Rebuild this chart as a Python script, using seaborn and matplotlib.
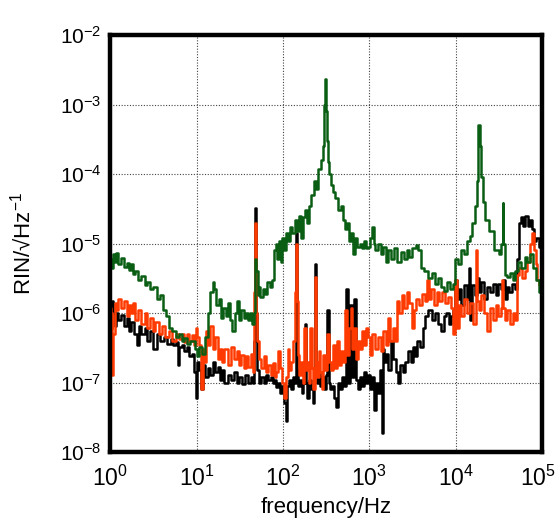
import numpy as np
import pandas as pd
import seaborn as sns
import matplotlib
matplotlib.use("Agg")
import matplotlib.pyplot as plt
import matplotlib.transforms as mtrans

# green trace
green_f = [1.0, 1.05, 1.1, 1.15, 1.2, 1.3, 1.4, 1.5, 1.6, 1.7, 1.8, 1.9, 2.0, 2.2, 2.4, 2.6, 2.8, 3.0, 3.3,
           3.6, 3.9, 4.2, 4.6, 5.0, 5.5, 6.0, 6.5, 7.0, 7.5, 8.0, 9.0, 10.0, 10.5, 11.0, 12.0, 13.0, 14.0,
           15.0, 15.7, 16.5, 17.5, 18.5, 20.0, 21.0, 22.5, 24.0, 25.0, 27.0, 28.0, 30.0, 32.0, 34.0, 36.0,
           38.0, 40.0, 42.0, 45.0, 47.0, 48.5, 50.0, 51.5, 53.0, 56.0, 60.0, 64.0, 68.0, 72.0, 76.0, 80.0,
           84.0, 88.0, 92.0, 96.0, 100.0, 106.0, 112.0, 118.0, 125.0, 132.0, 140.0, 148.0, 156.0, 165.0,
           175.0, 185.0, 195.0, 205.0, 220.0, 235.0, 250.0, 265.0, 280.0, 295.0, 305.0, 312.0, 318.0, 325.0,
           335.0, 350.0, 370.0, 390.0, 420.0, 450.0, 480.0, 510.0, 540.0, 570.0, 600.0, 630.0, 660.0, 700.0,
           750.0, 800.0, 850.0, 900.0, 950.0, 1000.0, 1050.0, 1100.0, 1150.0, 1200.0, 1300.0, 1400.0, 1500.0,
           1600.0, 1700.0, 1850.0, 2000.0, 2200.0, 2400.0, 2600.0, 2800.0, 3000.0, 3300.0, 3600.0, 3800.0,
           4100.0, 4500.0, 5000.0, 5500.0, 6000.0, 6500.0, 7000.0, 7600.0, 8200.0, 9000.0, 9600.0, 10200.0,
           11000.0, 12000.0, 13000.0, 14000.0, 15000.0, 16000.0, 17000.0, 17800.0, 18500.0, 19200.0, 20000.0,
           21000.0, 23000.0, 26000.0, 30000.0, 33000.0, 34500.0, 35000.0, 36000.0, 38000.0, 40000.0, 44000.0,
           48000.0, 50000.0, 55000.0, 60000.0, 65000.0, 70000.0, 75000.0, 80000.0, 88000.0, 95000.0]
green_v = [6.0e-6, 4.5e-6, 7.0e-6, 5.5e-6, 7.2e-6, 5.0e-6, 6.2e-6, 4.6e-6, 5.2e-6, 4.2e-6, 5.0e-6, 3.6e-6,
           4.0e-6, 3.0e-6, 3.4e-6, 2.5e-6, 2.8e-6, 2.2e-6, 2.4e-6, 1.6e-6, 1.8e-6, 1.1e-6, 9e-7, 6e-7, 5.5e-7,
           4.5e-7, 5.0e-7, 4.0e-7, 4.4e-7, 3.6e-7, 3.9e-7, 3.0e-7, 2.4e-7, 3.2e-7, 2.6e-7, 4.5e-7, 1.0e-6,
           2.0e-6, 2.8e-6, 2.2e-6, 1.3e-6, 1.6e-6, 8.5e-7, 1.2e-6, 9e-7, 1.4e-6, 8e-7, 5.5e-7, 1.0e-6, 1.5e-6,
           8e-7, 1.1e-6, 8.5e-7, 1.0e-6, 8e-7, 1.0e-6, 7e-7, 1.0e-6, 6e-6, 4e-6, 1.8e-6, 2.4e-6, 1.7e-6,
           2.2e-6, 1.9e-6, 2.8e-6, 2.4e-6, 3.0e-6, 8e-6, 1.0e-5, 6e-6, 1.1e-5, 5.5e-6, 1.2e-5, 8e-6, 1.4e-5,
           1.1e-5, 1.7e-5, 1.4e-5, 2.2e-5, 1.5e-5, 2.5e-5, 1.2e-5, 2.4e-5, 3.0e-5, 2.0e-5, 3.5e-5, 5e-5, 8e-5,
           6e-5, 1.2e-4, 1.6e-4, 2.5e-4, 1.0e-3, 2.3e-3, 8e-4, 3.0e-4, 1.5e-4, 1.0e-4, 7e-5, 5.5e-5, 4.5e-5,
           3.0e-5, 3.5e-5, 2.2e-5, 1.6e-5, 2.0e-5, 1.1e-5, 1.4e-5, 7e-6, 1.2e-5, 9e-6, 1.0e-5, 8.5e-6, 1.1e-5,
           8.5e-6, 9e-6, 1.2e-5, 1.7e-5, 1.0e-5, 8e-6, 1.0e-5, 7e-6, 9e-6, 5.5e-6, 8e-6, 6e-6, 8.5e-6, 5.5e-6,
           7.5e-6, 6e-6, 8e-6, 6.5e-6, 8.5e-6, 9.5e-6, 8e-6, 4.5e-6, 4.0e-6, 3.2e-6, 3.8e-6, 2.6e-6, 3.2e-6,
           2.4e-6, 2.1e-6, 2.8e-6, 2.2e-6, 2.6e-6, 6e-6, 5e-6, 8e-6, 7e-6, 1.1e-5, 1.3e-5, 2.0e-5, 3.5e-5,
           8e-5, 5e-4, 2.5e-4, 9e-5, 4e-5, 2.2e-5, 1.5e-5, 8e-6, 7e-6, 1.0e-5, 3.8e-5, 1.0e-5, 3.5e-6, 3.3e-6,
           3.8e-6, 3.0e-6, 4.0e-6, 5.5e-6, 4.5e-6, 6.5e-6, 5.5e-6, 7.0e-6, 4.5e-6, 3.0e-6, 2.0e-6]

# black trace
black_f = [1.0, 1.03, 1.06, 1.1, 1.15, 1.2, 1.3, 1.4, 1.5, 1.6, 1.7, 1.8, 2.0, 2.1, 2.2, 2.4, 2.6, 2.8, 3.0,
           3.3, 3.6, 4.0, 4.4, 4.8, 5.2, 5.6, 6.0, 6.2, 6.5, 7.0, 7.5, 8.0, 8.5, 9.0, 9.5, 10.0, 10.5, 11.0,
           11.5, 12.0, 13.0, 14.0, 15.0, 16.0, 17.0, 18.0, 19.0, 20.0, 22.0, 24.0, 26.0, 28.0, 30.0, 32.0,
           35.0, 38.0, 41.0, 44.0, 46.0, 47.5, 48.5, 49.5, 51.0, 54.0, 58.0, 62.0, 66.0, 70.0, 74.0, 78.0,
           82.0, 86.0, 90.0, 95.0, 100.0, 105.0, 110.0, 115.0, 120.0, 126.0, 132.0, 138.0, 143.0, 148.0,
           154.0, 160.0, 168.0, 175.0, 182.0, 188.0, 195.0, 205.0, 215.0, 225.0, 232.0, 237.0, 243.0, 255.0,
           265.0, 275.0, 290.0, 305.0, 320.0, 335.0, 345.0, 360.0, 380.0, 400.0, 420.0, 440.0, 470.0, 500.0,
           530.0, 555.0, 575.0, 610.0, 640.0, 680.0, 710.0, 750.0, 800.0, 850.0, 900.0, 950.0, 1000.0, 1050.0,
           1100.0, 1170.0, 1230.0, 1300.0, 1380.0, 1420.0, 1450.0, 1500.0, 1600.0, 1700.0, 1850.0, 1950.0,
           2100.0, 2200.0, 2350.0, 2500.0, 2700.0, 2900.0, 3100.0, 3300.0, 3500.0, 3700.0, 4000.0, 4300.0,
           4600.0, 5000.0, 5500.0, 6000.0, 6500.0, 7000.0, 7500.0, 8000.0, 8500.0, 9000.0, 9600.0, 10000.0,
           10500.0, 11000.0, 12000.0, 13000.0, 14000.0, 14500.0, 15000.0, 16000.0, 17000.0, 18000.0, 19000.0,
           20000.0, 22000.0, 24000.0, 26000.0, 28000.0, 30000.0, 32000.0, 34000.0, 36000.0, 38000.0, 40000.0,
           43000.0, 46000.0, 50000.0, 53000.0, 55000.0, 58000.0, 62000.0, 66000.0, 70000.0, 74000.0, 78000.0,
           83000.0, 88000.0, 95000.0, 100000.0]
black_v = [1.3e-6, 9e-7, 1.5e-6, 1.0e-6, 6.5e-7, 1.0e-6, 8e-7, 9.5e-7, 6.5e-7, 8.5e-7, 5.5e-7, 7.5e-7, 5.0e-7,
           3.5e-7, 6.5e-7, 5.0e-7, 6.0e-7, 4.0e-7, 5.5e-7, 3.0e-7, 5.0e-7, 4.0e-7, 4.5e-7, 3.6e-7, 4.2e-7,
           3.5e-7, 3.8e-7, 1.8e-7, 3.2e-7, 3.5e-7, 2.8e-7, 3.2e-7, 2.4e-7, 2.6e-7, 1.4e-7, 6e-8, 2.0e-7,
           1.5e-7, 8e-8, 1.8e-7, 1.2e-7, 1.6e-7, 1.3e-7, 2.0e-7, 1.4e-7, 1.7e-7, 1.1e-7, 1.5e-7, 1.0e-7,
           1.3e-7, 1.1e-7, 1.4e-7, 1.0e-7, 1.2e-7, 9.5e-8, 1.3e-7, 1.0e-7, 1.2e-7, 1.0e-7, 4e-7, 3.2e-5,
           1.0e-6, 1.5e-7, 1.0e-7, 1.2e-7, 1.0e-7, 1.3e-7, 1.1e-7, 1.2e-7, 1.0e-7, 1.1e-7, 8.5e-8, 1.0e-7,
           7e-8, 9e-8, 5e-8, 2.8e-8, 9e-8, 1.1e-7, 8e-8, 1.2e-7, 1.0e-7, 1.4e-5, 1.5e-7, 9e-8, 1.1e-7, 7e-8,
           1.0e-7, 7e-7, 1.0e-7, 6e-8, 1.1e-7, 8e-8, 5e-8, 1.2e-7, 5e-6, 1.5e-7, 1.0e-7, 1.4e-7, 9e-8, 1.2e-7,
           8e-8, 1.3e-7, 1.1e-6, 1.0e-7, 8e-8, 9e-8, 6e-8, 4.5e-8, 1.0e-7, 8e-8, 1.2e-7, 9e-8, 2.2e-6, 1.0e-7,
           1.3e-6, 1.2e-7, 1.6e-6, 1.1e-7, 8e-8, 1.2e-7, 9e-8, 1.4e-7, 1.0e-7, 1.3e-7, 8e-8, 1.2e-7, 4e-8,
           1.0e-7, 7e-8, 1.5e-7, 1.9e-8, 3.0e-7, 2.0e-7, 2.6e-7, 1.5e-7, 4.0e-7, 2.2e-7, 1.4e-7, 1.0e-7,
           1.8e-7, 1.4e-7, 2.0e-7, 2.8e-7, 2.0e-7, 3.2e-7, 2.4e-7, 4.0e-7, 3.2e-7, 6e-7, 9e-7, 1.1e-6, 8e-7,
           1.0e-6, 7e-7, 5.5e-7, 9e-7, 1.0e-6, 7e-7, 9e-7, 1.1e-6, 3.0e-6, 1.6e-6, 2.2e-6, 1.3e-6, 2.5e-6,
           1.6e-6, 4.5e-6, 8e-7, 2.5e-6, 1.8e-6, 3.2e-6, 2.0e-6, 2.8e-6, 1.6e-6, 2.4e-6, 2.0e-6, 2.6e-6,
           1.8e-6, 2.6e-6, 2.2e-6, 3.0e-6, 1.6e-6, 2.4e-6, 2.0e-6, 2.6e-6, 2.2e-6, 6e-6, 2.0e-5, 2.4e-5,
           1.8e-5, 2.5e-5, 1.8e-5, 2.2e-5, 1.6e-5, 1.1e-5, 1.2e-5, 9e-6, 9e-6]

# orange trace
orange_f = [1.0, 1.03, 1.05, 1.07, 1.1, 1.15, 1.2, 1.3, 1.4, 1.5, 1.6, 1.7, 1.8, 1.9, 2.0, 2.2, 2.4, 2.6, 2.8,
            3.0, 3.2, 3.5, 3.8, 4.1, 4.5, 5.0, 5.5, 6.0, 6.5, 7.0, 7.5, 8.0, 8.5, 9.0, 9.5, 10.0, 10.5, 11.0,
            11.5, 12.0, 12.5, 13.0, 14.0, 15.0, 16.0, 17.0, 18.0, 19.0, 20.0, 22.0, 24.0, 26.0, 28.0, 30.0,
            32.0, 34.0, 36.0, 38.0, 41.0, 44.0, 46.0, 47.5, 48.5, 49.5, 51.0, 54.0, 58.0, 62.0, 66.0, 70.0,
            74.0, 78.0, 82.0, 86.0, 90.0, 95.0, 100.0, 105.0, 110.0, 116.0, 122.0, 128.0, 134.0, 140.0, 143.0,
            147.0, 152.0, 158.0, 165.0, 172.0, 180.0, 186.0, 194.0, 202.0, 212.0, 220.0, 228.0, 237.0, 245.0,
            255.0, 265.0, 275.0, 285.0, 300.0, 315.0, 330.0, 345.0, 365.0, 385.0, 405.0, 430.0, 455.0, 480.0,
            510.0, 540.0, 565.0, 595.0, 620.0, 650.0, 680.0, 720.0, 760.0, 800.0, 850.0, 900.0, 950.0, 1000.0,
            1050.0, 1100.0, 1200.0, 1300.0, 1400.0, 1500.0, 1600.0, 1700.0, 1800.0, 1950.0, 2050.0, 2150.0,
            2300.0, 2450.0, 2600.0, 2800.0, 3000.0, 3200.0, 3400.0, 3600.0, 3900.0, 4200.0, 4500.0, 4700.0,
            5000.0, 5400.0, 5800.0, 6200.0, 6700.0, 7200.0, 7800.0, 8400.0, 9000.0, 9700.0, 10000.0, 10500.0,
            11000.0, 12000.0, 13000.0, 14000.0, 15000.0, 16500.0, 17500.0, 18000.0, 19000.0, 20000.0, 22000.0,
            24000.0, 26000.0, 28000.0, 30000.0, 32000.0, 34000.0, 35000.0, 36000.0, 38000.0, 41000.0, 44000.0,
            48000.0, 50000.0, 52000.0, 56000.0, 60000.0, 65000.0, 70000.0, 75000.0, 78000.0, 82000.0, 86000.0,
            90000.0, 95000.0, 100000.0]
orange_v = [1.2e-6, 6e-7, 1.0e-6, 1.3e-7, 5e-7, 1.4e-6, 1.1e-6, 1.6e-6, 1.2e-6, 1.5e-6, 9e-7, 1.3e-6, 1.0e-6,
            1.4e-6, 8e-7, 1.1e-6, 7e-7, 1.0e-6, 6e-7, 8.5e-7, 5.5e-7, 7.5e-7, 5.0e-7, 6.5e-7, 4.5e-7, 5.5e-7,
            4.0e-7, 5.0e-7, 4.2e-7, 5.0e-7, 3.8e-7, 5.0e-7, 4.0e-7, 4.8e-7, 3.5e-7, 6.0e-7, 4.5e-7, 3.5e-7,
            8e-8, 3.0e-7, 2.0e-7, 5.5e-7, 3.5e-7, 6.5e-7, 3.0e-7, 4.5e-7, 2.2e-7, 3.0e-7, 2.0e-7, 3.0e-7,
            1.8e-7, 3.2e-7, 2.2e-7, 2.8e-7, 1.8e-7, 2.5e-7, 1.6e-7, 2.4e-7, 1.7e-7, 2.6e-7, 1.4e-7, 2.0e-6,
            2.0e-5, 1.0e-6, 4.0e-7, 2.2e-7, 1.6e-7, 2.4e-7, 1.4e-7, 1.8e-7, 1.3e-7, 1.9e-7, 1.2e-7, 1.4e-7,
            2.8e-7, 1.6e-7, 1.0e-7, 6e-8, 1.2e-7, 3.0e-7, 1.5e-7, 2.0e-7, 4.0e-7, 2.0e-6, 1.0e-5, 1.5e-6,
            2.5e-7, 1.3e-7, 2.0e-7, 1.0e-7, 6e-7, 1.5e-7, 2.0e-7, 1.0e-7, 6e-7, 1.6e-7, 8e-8, 3.3e-6, 2.0e-7,
            1.2e-7, 2.8e-7, 1.4e-7, 8e-8, 2.5e-7, 1.5e-7, 5.0e-7, 2.0e-7, 1.5e-7, 3.5e-7, 1.6e-7, 4.0e-7,
            1.8e-7, 2.8e-7, 2.0e-7, 1.1e-6, 2.5e-7, 6e-7, 1.2e-6, 3.0e-7, 6e-7, 2.2e-7, 4.0e-7, 3.0e-7, 5.5e-7,
            3.5e-7, 6e-7, 4.5e-7, 2.5e-7, 5e-7, 3.0e-7, 4.5e-7, 2.8e-7, 5.5e-7, 3.5e-7, 8.5e-7, 4.0e-7, 6e-7,
            4.0e-7, 1.5e-6, 1.0e-6, 1.8e-6, 1.2e-6, 2.0e-6, 1.4e-6, 6e-7, 1.1e-6, 1.6e-6, 1.3e-6, 1.9e-6,
            1.5e-6, 3.0e-6, 1.6e-6, 2.2e-6, 1.3e-6, 2.0e-6, 1.5e-6, 2.0e-6, 1.4e-6, 1.7e-6, 1.2e-6, 5e-7,
            3.0e-6, 6e-7, 1.3e-6, 9e-7, 1.6e-6, 1.0e-6, 1.4e-6, 7e-7, 8e-6, 1.5e-6, 1.1e-6, 1.8e-6, 1.0e-6,
            5.5e-7, 1.2e-6, 8e-7, 1.3e-6, 9e-7, 1.2e-6, 3.0e-6, 1.2e-6, 8e-7, 1.1e-6, 7e-7, 1.0e-6, 8e-7,
            3.5e-6, 4.5e-6, 3.2e-6, 4.0e-6, 5.5e-6, 1.0e-5, 1.4e-5, 8e-6, 5e-6, 3.0e-6, 2.5e-6, 2.6e-6]

sns.set_style("white")
plt.rcParams['font.family'] = ['Liberation Sans', 'DejaVu Sans']
plt.rcParams['mathtext.fontset'] = 'custom'
plt.rcParams['mathtext.rm'] = 'Liberation Sans'
plt.rcParams['text.color'] = 'black'
plt.rcParams['axes.labelcolor'] = 'black'
plt.rcParams['xtick.color'] = 'black'
plt.rcParams['ytick.color'] = 'black'

fig = plt.figure(figsize=(5.59, 5.21), dpi=100)
ax = fig.add_axes([0.197, 0.1324, 0.773, 0.8004])

# steps like the original spectrum plot
kw = dict(lw=1.8, ax=ax, estimator=None, sort=False, drawstyle="steps-mid")
sns.lineplot(x=black_f, y=black_v, color="black", **kw)
sns.lineplot(x=orange_f, y=orange_v, color="#ff3a00", **kw)
sns.lineplot(x=green_f, y=green_v, color="#0a5e14", **kw)

ax.set_xscale("log")
ax.set_yscale("log")
ax.set_xlim(1, 1e5)
ax.set_ylim(1e-8, 1e-2)
ax.set_xticks([1e0, 1e1, 1e2, 1e3, 1e4, 1e5])
ax.set_yticks([1e-8, 1e-7, 1e-6, 1e-5, 1e-4, 1e-3, 1e-2])
ax.minorticks_off()
ax.grid(True, which="major", color="#444444", linestyle=(0, (1, 1.5)), lw=0.8)
ax.tick_params(axis="x", labelsize=16.5, length=0, pad=10)
ax.tick_params(axis="y", labelsize=15, length=0, pad=6)
for s in ax.spines.values():
    s.set_linewidth(3.2)
    s.set_color("black")

ax.set_xlabel("frequency/Hz", fontsize=16, labelpad=4)
ax.set_ylabel("RIN/√Hz$^{-1}$", fontsize=16, labelpad=18)

# nudge the last x label so it stays inside the figure
fig.canvas.draw()
last = ax.get_xticklabels()[-1]
last.set_transform(last.get_transform() + mtrans.ScaledTranslation(-4 / 100, 0, fig.dpi_scale_trans))

fig.savefig("out.png", dpi=100)
